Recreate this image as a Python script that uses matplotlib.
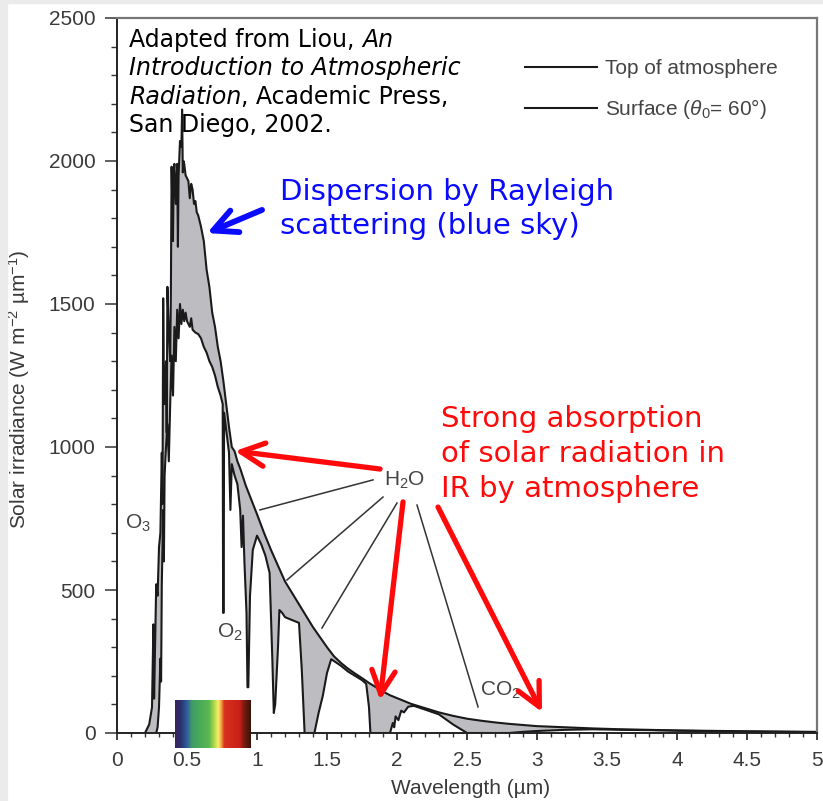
import numpy as np
import matplotlib
matplotlib.use("Agg")
import matplotlib.pyplot as plt
from matplotlib.colors import LinearSegmentedColormap
from matplotlib.patches import FancyArrowPatch, Rectangle
from matplotlib.ticker import MultipleLocator

plt.rcParams["font.family"] = ["Liberation Sans", "DejaVu Sans"]
plt.rcParams["mathtext.fontset"] = "custom"
plt.rcParams["mathtext.rm"] = "Liberation Sans"
plt.rcParams["mathtext.it"] = "Liberation Sans:italic"

# ── spectra (wavelength in µm, W m-2 µm-1) ────────────────────────────────────
toa_wl = [0.20, 0.23, 0.25, 0.26, 0.265, 0.28, 0.29, 0.30, 0.31, 0.32, 0.325,
          0.33, 0.335, 0.34, 0.35, 0.355, 0.36, 0.37, 0.38, 0.385, 0.39, 0.40,
          0.405, 0.41, 0.42, 0.43, 0.435, 0.44, 0.45, 0.46, 0.465, 0.47, 0.475,
          0.48, 0.49, 0.50, 0.51, 0.52, 0.53, 0.54, 0.55, 0.56, 0.57, 0.58,
          0.59, 0.60, 0.62, 0.64, 0.66, 0.68, 0.70, 0.72, 0.74, 0.76, 0.78,
          0.80, 0.82, 0.84, 0.86, 0.88, 0.90, 0.92, 0.94, 0.96, 0.98, 1.00,
          1.05, 1.10, 1.15, 1.20, 1.25, 1.30, 1.35, 1.40, 1.45, 1.50, 1.55,
          1.60, 1.65, 1.70, 1.75, 1.80, 1.85, 1.90, 1.95, 2.00, 2.10, 2.20,
          2.30, 2.40, 2.50, 2.60, 2.70, 2.80, 2.90, 3.00, 3.20, 3.40, 3.60,
          3.80, 4.00, 4.50, 5.00]
toa_val = [0, 30, 90, 380, 120, 520, 480, 650, 700, 980, 800,
           1520, 1200, 1150, 1300, 1050, 1560, 1400, 1300, 1550, 1980, 1720,
           1960, 1990, 1850, 1990, 1700, 1950, 2070, 2050, 2180, 1960, 2000,
           1990, 1950, 1940, 1930, 1870, 1920, 1900, 1850, 1860, 1820, 1810,
           1790, 1770, 1720, 1620, 1560, 1470, 1420, 1350, 1300, 1230, 1150,
           1070, 1000, 985, 950, 925, 895, 865, 840, 815, 790, 765,
           700, 640, 585, 530, 490, 450, 410, 370, 335, 300, 268,
           245, 225, 208, 192, 175, 160, 145, 132, 122, 102, 87,
           72, 60, 50, 43, 37, 32, 28, 24, 20, 16, 13,
           11, 9, 6, 4]

sfc_wl = [0.28, 0.29, 0.30, 0.31, 0.315, 0.32, 0.33, 0.335, 0.34, 0.35, 0.36,
          0.37, 0.38, 0.39, 0.40, 0.41, 0.42, 0.43, 0.44, 0.45, 0.46, 0.47,
          0.48, 0.49, 0.50, 0.52, 0.53, 0.54, 0.56, 0.58, 0.60, 0.62, 0.64,
          0.66, 0.68, 0.70, 0.72, 0.74, 0.755, 0.758, 0.762, 0.765, 0.78, 0.80,
          0.81, 0.82, 0.84, 0.86, 0.88, 0.89, 0.90, 0.91, 0.925, 0.932, 0.938,
          0.95, 0.97, 1.00, 1.03, 1.06, 1.09, 1.11, 1.12, 1.13, 1.15, 1.16,
          1.18, 1.20, 1.25, 1.30, 1.32, 1.34, 1.41, 1.44, 1.47, 1.50, 1.53,
          1.57, 1.60, 1.65, 1.70, 1.75, 1.78, 1.80, 1.81, 1.95, 1.97, 1.98,
          1.99, 2.01, 2.03, 2.05, 2.08, 2.12, 2.20, 2.30, 2.40, 2.50, 2.80,
          2.90, 3.00, 3.20, 3.40, 3.60, 3.80, 4.00, 4.50, 5.00]
sfc_val = [0, 20, 90, 260, 180, 520, 780, 600, 900, 1000, 1080,
           950, 1150, 1320, 1180, 1420, 1300, 1480, 1380, 1500, 1430, 1480,
           1440, 1470, 1440, 1420, 1450, 1410, 1400, 1395, 1380, 1350, 1330,
           1300, 1280, 1250, 1210, 1180, 1150, 420, 420, 1120, 1060, 980,
           780, 940, 900, 870, 780, 650, 760, 600, 420, 160, 160,
           480, 640, 690, 660, 620, 560, 250, 70, 100, 300, 430,
           420, 405, 395, 385, 220, 0, 0, 70, 130, 210, 258,
           245, 235, 215, 200, 185, 172, 90, 0, 0, 35, 20,
           58, 45, 78, 72, 92, 95, 82, 65, 30, 0, 0,
           4, 7, 11, 13, 11, 10, 8, 5, 3]

# visible-spectrum strip colours (violet -> red)
spec_pos = [0.00, 0.07, 0.16, 0.22, 0.30, 0.45, 0.52, 0.57, 0.61, 0.65, 0.85, 0.91, 1.00]
spec_col = ["#3b2357", "#2b2f70", "#2f5f9a", "#3e9a6a", "#45a85a", "#5cb850",
            "#b6d94c", "#f4f06a", "#f0a040", "#d83020", "#c82018", "#7a1a10", "#3a1208"]

xticks = [0, 0.5, 1, 1.5, 2, 2.5, 3, 3.5, 4, 4.5, 5]
xtick_labels = ["0", "0.5", "1", "1.5", "2", "2.5", "3", "3.5", "4", "4.5", "5"]
yticks = [0, 500, 1000, 1500, 2000, 2500]

# annotation arrows: (tail, head) in data units
red_arrows = [((1.879, 923), (0.843, 986)),
              ((2.043, 808), (1.879, 115)),
              ((2.293, 790), (3.036, 73))]
blue_arrow = ((1.036, 1829), (0.643, 1748))
h2o_leaders = [((1.829, 885), (1.021, 780)),
               ((1.900, 825), (1.214, 535)),
               ((2.000, 804), (1.464, 367)),
               ((2.143, 797), (2.579, 91))]

W, H = 823, 801
def px(x, y):
    return x / W, 1 - y / H

GREY_TXT = "#3a3a3a"
LINE = "#1a1a1a"

fig = plt.figure(figsize=(W / 100, H / 100), dpi=100)
fig.patches.append(Rectangle((0, 0), 7 / W, 1, transform=fig.transFigure,
                             color="#ebebeb", zorder=0))
fig.patches.append(Rectangle((0, 1 - 3 / H), 1, 3 / H, transform=fig.transFigure,
                             color="#ebebeb", zorder=0))
ax = fig.add_axes([117 / W, 68 / H, 700 / W, 715 / H])

# shaded absorption between the two spectra
ax.fill(np.r_[toa_wl, sfc_wl[::-1]], np.r_[toa_val, sfc_val[::-1]],
        color="#bdbdc1", lw=0, zorder=1)
l1, = ax.plot(toa_wl, toa_val, color=LINE, lw=1.5, zorder=2)
l2, = ax.plot(sfc_wl, sfc_val, color=LINE, lw=1.5, zorder=2)

# visible spectrum strip
cmap = LinearSegmentedColormap.from_list("vis", list(zip(spec_pos, spec_col)))
ax.imshow(np.linspace(0, 1, 256)[None, :], cmap=cmap, aspect="auto",
          extent=[0.414, 0.95, -52, 115], clip_on=False, zorder=5)

ax.set_xlim(0, 5)
ax.set_ylim(0, 2500)
ax.set_xticks(xticks)
ax.set_xticklabels(xtick_labels)
ax.set_yticks(yticks)
ax.xaxis.set_minor_locator(MultipleLocator(0.1))
ax.yaxis.set_minor_locator(MultipleLocator(100))
ax.tick_params(axis="both", which="both", direction="out", color="#333",
               labelcolor=GREY_TXT, labelsize=15)
ax.tick_params(axis="y", which="major", length=8.5, width=1.1, pad=7)
ax.tick_params(axis="y", which="minor", length=4.5, width=1.0)
ax.tick_params(axis="x", which="major", length=5, width=1.3, pad=8)
ax.tick_params(axis="x", which="minor", length=3, width=1.0)
for side in ["top", "right"]:
    ax.spines[side].set_color("#777")
    ax.spines[side].set_linewidth(1.6)
for side in ["left", "bottom"]:
    ax.spines[side].set_color("#222")
    ax.spines[side].set_linewidth(1.4)

ax.set_xlabel("Wavelength (µm)", fontsize=15, color=GREY_TXT, va="center")
ax.xaxis.set_label_coords(0.505, -0.077)
ax.set_ylabel(r"Solar irradiance (W m$^{-2}$ µm$^{-1}$)", fontsize=15,
              color=GREY_TXT, va="center")
ax.yaxis.set_label_coords(-0.14, 0.481)

ax.legend([l1, l2], ["Top of atmosphere", r"Surface ($\theta_0$= 60°)"],
          loc="upper left", bbox_to_anchor=px(525, 59), bbox_transform=fig.transFigure,
          frameon=False, fontsize=15, labelcolor="#444", handlelength=3.46,
          handletextpad=0.38, labelspacing=0.92, borderpad=0, borderaxespad=0)

# gas labels of the original figure
for txt, (x, y) in [(r"H$_2$O", (2.057, 885)), (r"O$_3$", (0.15, 734)),
                    (r"O$_2$", (0.807, 353)), (r"CO$_2$", (2.736, 150))]:
    ax.text(x, y, txt, fontsize=15, color="#444", ha="center", va="center", zorder=4)
for (x0, y0), (x1, y1) in h2o_leaders:
    ax.plot([x0, x1], [y0, y1], color="#333", lw=1.1, zorder=3)

# overlaid arrows
for tail, head in red_arrows:
    ax.add_patch(FancyArrowPatch(tail, head, arrowstyle="->,head_length=0.85,head_width=0.42",
                                 mutation_scale=20, lw=3.8, color="#ff0a0a",
                                 zorder=6, clip_on=False, shrinkA=0, shrinkB=0))
ax.add_patch(FancyArrowPatch(blue_arrow[0], blue_arrow[1],
                             arrowstyle="->,head_length=0.85,head_width=0.42",
                             mutation_scale=20, lw=4.2, color="#0a0aff",
                             zorder=6, shrinkA=0, shrinkB=0))

# source text (Verdana-like, mixed italic)
SRC = dict(fontsize=17, color="black", family="DejaVu Sans")
t1 = fig.text(*px(129, 47), "Adapted from Liou, ", va="baseline", **SRC)
ax.annotate("An", xy=(1, 0), xycoords=t1, va="bottom", style="italic", **SRC)
fig.text(*px(129, 75), "Introduction to Atmospheric", va="baseline",
         style="italic", **SRC)
t3 = fig.text(*px(129, 104), "Radiation", va="baseline", style="italic", **SRC)
ax.annotate(", Academic Press,", xy=(1, 0), xycoords=t3, va="bottom", **SRC)
fig.text(*px(129, 132), "San Diego, 2002.", va="baseline", **SRC)

blue_lines = ["Dispersion by Rayleigh", "scattering (blue sky)"]
for i, s in enumerate(blue_lines):
    fig.text(*px(280, 200 + 34 * i), s, va="baseline", fontsize=21,
             color="#0a0aff", family="DejaVu Sans")
red_lines = ["Strong absorption", "of solar radiation in", "IR by atmosphere"]
for i, s in enumerate(red_lines):
    fig.text(*px(441, 427 + 35 * i), s, va="baseline", fontsize=21,
             color="#ff0a0a", family="DejaVu Sans")

fig.savefig("out.png", dpi=100)
